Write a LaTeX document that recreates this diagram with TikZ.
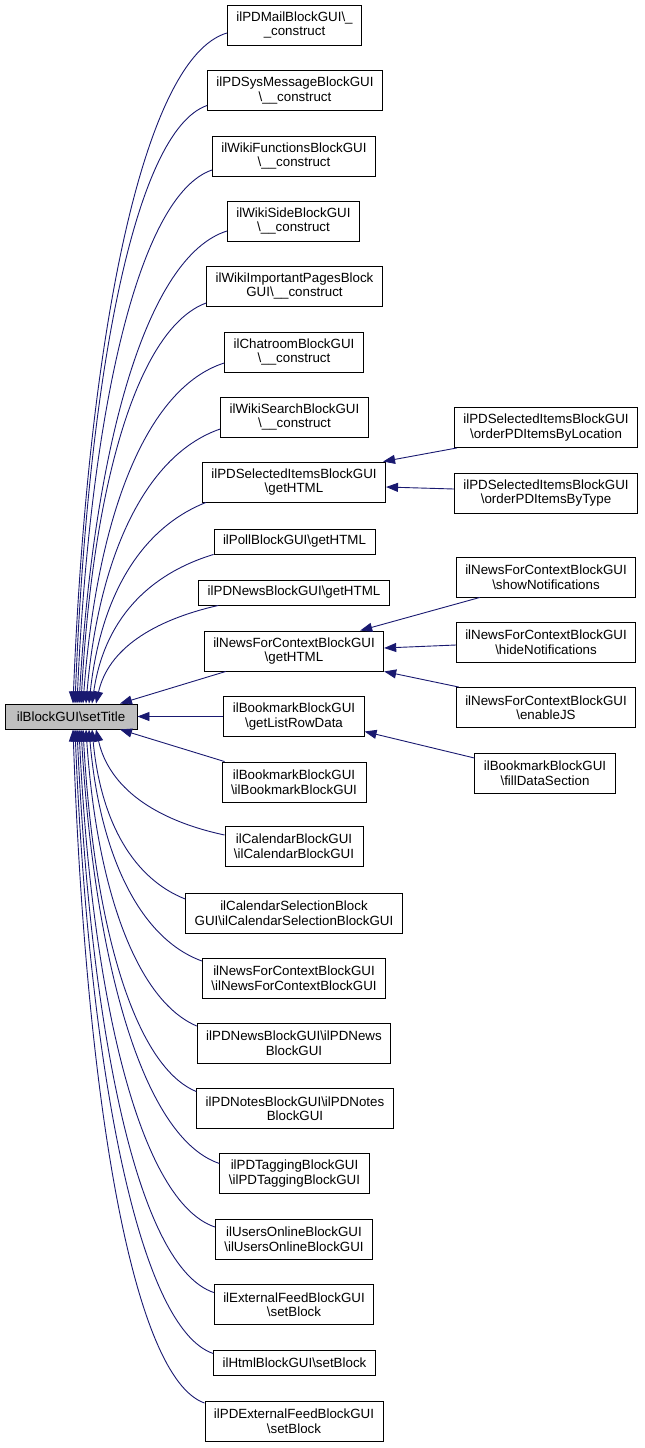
\documentclass[tikz,border=0pt]{standalone}
\usepackage{fontspec}
\setmainfont{Liberation Sans}
\usetikzlibrary{arrows.meta}
\definecolor{edgeblue}{HTML}{191970}
\definecolor{rootgray}{HTML}{BFBFBF}
\tikzset{
  func/.style={draw=black, line width=0.9pt, align=center, inner xsep=9pt, inner ysep=0pt,
    font=\fontsize{13.33}{14.5}\selectfont, minimum height=40pt},
  func1/.style={func, minimum height=25pt},
  rootfunc/.style={func1, fill=rootgray, minimum width=132pt},
  edge/.style={draw=edgeblue, line width=0.9pt, <-, >={Triangle[length=12pt,width=9pt]}},
}
\begin{document}
\begin{tikzpicture}[x=1pt,y=1pt]
  \useasboundingbox (0,0) rectangle (645,-1448);
  \node (root) [rootfunc] at (71,-716.5) {ilBlockGUI\textbackslash setTitle};
  % callers
  \node (b1) [func] at (294.5,-25) {ilPDMailBlockGUI\textbackslash\_\\\_construct};
  \node (b2) [func] at (295,-90.5) {ilPDSysMessageBlockGUI\\\textbackslash\_\_construct};
  \node (b3) [func] at (294,-156) {ilWikiFunctionsBlockGUI\\\textbackslash\_\_construct};
  \node (b4) [func] at (293.5,-221) {ilWikiSideBlockGUI\\\textbackslash\_\_construct};
  \node (b5) [func] at (294.5,-286) {ilWikiImportantPagesBlock\\GUI\textbackslash\_\_construct};
  \node (b6) [func] at (294,-352) {ilChatroomBlockGUI\\\textbackslash\_\_construct};
  \node (b7) [func] at (294.5,-417) {ilWikiSearchBlockGUI\\\textbackslash\_\_construct};
  \node (b8) [func] at (294,-482) {ilPDSelectedItemsBlockGUI\\\textbackslash getHTML};
  \node (b9) [func1] at (294.5,-541.5) {ilPollBlockGUI\textbackslash getHTML};
  \node (b10) [func1] at (294,-592.5) {ilPDNewsBlockGUI\textbackslash getHTML};
  \node (b11) [func] at (294,-651) {ilNewsForContextBlockGUI\\\textbackslash getHTML};
  \node (b12) [func] at (294,-716.5) {ilBookmarkBlockGUI\\\textbackslash getListRowData};
  \node (b13) [func] at (294,-782) {ilBookmarkBlockGUI\\\textbackslash ilBookmarkBlockGUI};
  \node (b14) [func] at (294,-846) {ilCalendarBlockGUI\\\textbackslash ilCalendarBlockGUI};
  \node (b15) [func] at (294,-913) {ilCalendarSelectionBlock\\GUI\textbackslash ilCalendarSelectionBlockGUI};
  \node (b16) [func] at (294,-978) {ilNewsForContextBlockGUI\\\textbackslash ilNewsForContextBlockGUI};
  \node (b17) [func] at (294,-1043) {ilPDNewsBlockGUI\textbackslash ilPDNews\\BlockGUI};
  \node (b18) [func] at (295,-1108.5) {ilPDNotesBlockGUI\textbackslash ilPDNotes\\BlockGUI};
  \node (b19) [func] at (294.5,-1173.5) {ilPDTaggingBlockGUI\\\textbackslash ilPDTaggingBlockGUI};
  \node (b20) [func] at (294,-1239) {ilUsersOnlineBlockGUI\\\textbackslash ilUsersOnlineBlockGUI};
  \node (b21) [func] at (294,-1304.5) {ilExternalFeedBlockGUI\\\textbackslash setBlock};
  \node (b22) [func1] at (294.5,-1362.5) {ilHtmlBlockGUI\textbackslash setBlock};
  \node (b23) [func] at (294,-1421) {ilPDExternalFeedBlockGUI\\\textbackslash setBlock};
  % second level
  \node (r1) [func] at (546,-427.5) {ilPDSelectedItemsBlockGUI\\\textbackslash orderPDItemsByLocation};
  \node (r2) [func] at (546,-493) {ilPDSelectedItemsBlockGUI\\\textbackslash orderPDItemsByType};
  \node (r3) [func] at (546,-577) {ilNewsForContextBlockGUI\\\textbackslash showNotifications};
  \node (r4) [func] at (546,-642) {ilNewsForContextBlockGUI\\\textbackslash hideNotifications};
  \node (r5) [func] at (546,-707.5) {ilNewsForContextBlockGUI\\\textbackslash enableJS};
  \node (r6) [func] at (545,-773) {ilBookmarkBlockGUI\\\textbackslash fillDataSection};
  % edges above the root
  \draw[edge] ([xshift=2pt]root.north) .. controls +(15,369) and +(-84,-25) .. ([yshift=-8pt]b1.west);
  \draw[edge] ([xshift=4pt]root.north) .. controls +(13,329) and +(-72,-25) .. ([yshift=-15pt]b2.west);
  \draw[edge] ([xshift=6pt]root.north) .. controls +(13,294) and +(-73,-25) .. ([yshift=-14pt]b3.west);
  \draw[edge] ([xshift=8pt]root.north) .. controls +(15,260) and +(-80,-25) .. ([yshift=-10pt]b4.west);
  \draw[edge] ([xshift=10pt]root.north) .. controls +(12,221) and +(-68,-25) .. ([yshift=-17pt]b5.west);
  \draw[edge] ([xshift=12pt]root.north) .. controls +(14,188) and +(-78,-25) .. ([yshift=-11pt]b6.west);
  \draw[edge] ([xshift=15pt]root.north) .. controls +(13,151) and +(-73,-25) .. ([yshift=-12pt]b7.west);
  \draw[edge] ([xshift=18pt]root.north) .. controls +(12,111) and +(-63,-25) .. ([xshift=4pt]b8.south west);
  \draw[edge] ([xshift=21pt]root.north) .. controls +(12,83) and +(-66,-20) .. (b9.south west);
  \draw[edge] ([xshift=25pt]root.north) .. controls +(12,54) and +(-66,-15) .. ([xshift=20pt]b10.south west);
  \draw[edge] ([xshift=49pt]root.north) -- ([xshift=22pt]b11.south west);
  \draw[edge] (root.east) -- (b12.west);
  % edges below the root
  \draw[edge] ([xshift=49pt]root.south) -- ([xshift=3pt]b13.north west);
  \draw[edge] ([xshift=25pt]root.south) .. controls +(13,-58) and +(-70,15) .. ([yshift=11pt]b14.west);
  \draw[edge] ([xshift=21pt]root.south) .. controls +(9,-94) and +(-51,20) .. ([yshift=14pt]b15.west);
  \draw[edge] ([xshift=18pt]root.south) .. controls +(11,-128) and +(-61,22) .. ([yshift=17pt]b16.west);
  \draw[edge] ([xshift=15pt]root.south) .. controls +(11,-163) and +(-59,25) .. ([yshift=17pt]b17.west);
  \draw[edge] ([xshift=12pt]root.south) .. controls +(11,-199) and +(-61,25) .. ([yshift=17pt]b18.west);
  \draw[edge] ([xshift=10pt]root.south) .. controls +(14,-239) and +(-75,25) .. ([yshift=10pt]b19.west);
  \draw[edge] ([xshift=8pt]root.south) .. controls +(13,-274) and +(-74,25) .. ([yshift=12pt]b20.west);
  \draw[edge] ([xshift=6pt]root.south) .. controls +(14,-310) and +(-75,25) .. ([yshift=12pt]b21.west);
  \draw[edge] ([xshift=4pt]root.south) .. controls +(14,-343) and +(-74,25) .. ([yshift=9pt]b22.west);
  \draw[edge] ([xshift=2pt]root.south) .. controls +(13,-371) and +(-72,25) .. ([yshift=18pt]b23.west);
  % second level edges
  \draw[edge] ([xshift=-3pt]b8.north east) -- ([xshift=3pt]r1.south west);
  \draw[edge] ([yshift=-5pt]b8.east) -- ([yshift=4pt]r2.west);
  \draw[edge] ([xshift=-24pt]b11.north east) -- ([xshift=24pt]r3.south west);
  \draw[edge] ([yshift=3pt]b11.east) -- ([yshift=-3pt]r4.west);
  \draw[edge] (b11.south east) -- ([xshift=3pt]r5.north west);
  \draw[edge] ([yshift=-15pt]b12.east) -- ([yshift=15pt]r6.west);
\end{tikzpicture}
\end{document}
